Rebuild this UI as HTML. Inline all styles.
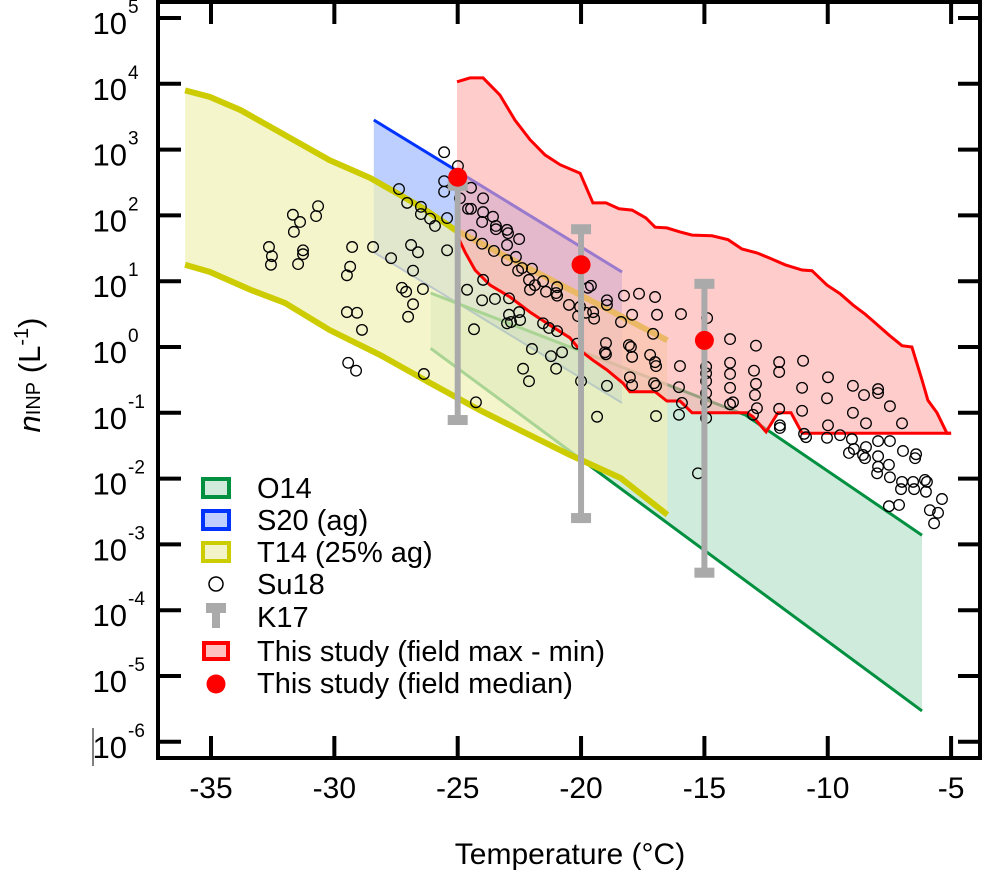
<!DOCTYPE html>
<html><head><meta charset="utf-8"><style>
body{margin:0;background:#fff}
svg{display:block;font-family:"Liberation Sans",sans-serif}
</style></head><body>
<svg id="chart" width="982" height="870" viewBox="0 0 982 870">
<g id="bands"></g><g id="pts"></g><g id="k17"></g><g id="med"></g><g id="axes"></g><g id="legend"></g>
</svg>
<script>
const xTicks=[-35,-30,-25,-20,-15,-10,-5];
const yTicks=[5,4,3,2,1,0,-1,-2,-3,-4,-5,-6];
// T14 band (log10 n)
const t14T=[-36.05,-35.04,-33.8,-30.2,-28.55,-26.5,-25.1,-16.5];
const t14Up=[3.9,3.8,3.6,2.84,2.57,2.13,1.78,0.1];
const t14LoT=[-36.05,-35.04,-33.4,-32.0,-30.2,-28.15,-26.1,-24.1,-22.5,-20.45,-18.4,-16.5];
const t14Lo=[1.25,1.14,0.87,0.67,0.26,-0.12,-0.55,-0.96,-1.26,-1.64,-1.99,-2.55];
// S20
const s20T=[-28.4,-18.34];
const s20Up=[3.45,1.14];
const s20Lo=[1.44,-0.85];
// O14
const o14UpT=[-26.1,-13.35,-6.18];
const o14Up=[0.82,-1.03,-2.86];
const o14LoT=[-26.1,-6.18];
const o14Lo=[-0.02,-5.53];
// This study max/min
const maxT=[-25.03,-24.5,-23.97,-23.29,-22.68,-22.07,-21.46,-20.85,-20.04,-19.52,-18.99,-18.46,-17.93,-17.37,-17.0,-16.52,-15.99,-15.5,-14.69,-14.04,-13.48,-12.87,-12.34,-11.73,-11.04,-10.64,-10.03,-9.5,-8.98,-8.49,-8.21,-7.48,-6.99,-6.59,-6.18,-5.94,-5.57,-5.17,-5.0];
const maxV=[4.03,4.09,4.09,3.83,3.45,3.15,2.92,2.77,2.64,2.19,2.19,2.1,2.08,1.96,1.82,1.81,1.75,1.7,1.69,1.63,1.49,1.43,1.35,1.25,1.17,1.16,0.94,0.81,0.64,0.5,0.41,0.17,0.02,0,-0.5,-0.81,-1.0,-1.31,-1.31];
const minT=[-25.03,-24.7,-24.3,-23.69,-22.88,-22.07,-21.26,-20.45,-20.04,-19.52,-18.95,-18.3,-18.02,-17.0,-16.52,-15.99,-15.5,-13.27,-13.03,-12.5,-12.02,-11.49,-11.04,-5.0];
const minV=[1.7,1.44,1.17,0.94,0.76,0.53,0.33,0.14,-0.05,-0.2,-0.35,-0.55,-0.68,-0.68,-0.82,-0.82,-1.0,-1.0,-1.06,-1.29,-1.0,-1.0,-1.31,-1.31];
const medT=[-25,-20,-15];
const medV=[2.58,1.25,0.1];
const k17T=[-25,-20,-15];
const k17Hi=[2.45,1.79,0.96];
const k17Lo=[-1.11,-2.6,-3.43];
// Su18 points
const su18T=[-25.55,-24.99,-25.55,-25.55,-24.46,-27.38,-27.05,-26.49,-26.49,-26.12,-25.92,-25.43,-24.91,-24.46,-23.97,-23.97,-24.46,-24.58,-24.01,-24.01,-25.43,-26.89,-26.61,-28.43,-27.7,-26.81,-29.28,-29.36,-29.49,-30.66,-30.74,-31.68,-31.39,-31.64,-32.65,-32.53,-32.57,-31.27,-31.27,-31.47,-24.62,-23.97,-27.26,-27.09,-26.41,-23.57,-23.45,-23.45,-23.0,-22.96,-22.51,-23.53,-23.0,-22.64,-23.0,-22.39,-22.55,-21.99,-22.11,-21.87,-22.07,-21.54,-21.42,-20.97,-21.01,-20.97,-20.49,-20.04,-20.12,-19.8,-19.51,-19.47,-19.72,-19.6,-24.01,-23.49,-22.92,-22.51,-22.92,-23.0,-22.84,-22.47,-21.54,-21.3,-20.97,-20.16,-24.34,-21.99,-21.22,-20.77,-22.35,-21.01,-22.11,-20.0,-29.44,-29.12,-26.37,-24.26,-19.35,-26.81,-27.01,-29.49,-29.08,-28.88,-18.95,-18.95,-18.26,-17.65,-17.0,-17.93,-18.38,-16.92,-15.95,-14.89,-17.08,-18.99,-19.03,-18.99,-18.06,-17.98,-17.93,-17.2,-17.0,-16.96,-18.95,-18.02,-17.93,-17.04,-16.96,-15.99,-16.03,-15.91,-16.03,-16.96,-14.93,-14.93,-14.93,-14.93,-14.93,-14.93,-13.96,-12.91,-13.96,-13.96,-13.96,-13.96,-13.84,-12.99,-12.91,-12.95,-12.87,-13.03,-11.97,-11.97,-11.97,-11.0,-11.04,-11.04,-9.99,-10.03,-9.99,-8.98,-8.53,-7.96,-7.96,-8.98,-8.45,-7.48,-6.99,-11.94,-11.94,-10.96,-10.88,-10.03,-9.5,-9.02,-7.96,-7.48,-8.94,-9.14,-8.57,-8.45,-8.49,-7.96,-7.96,-8.0,-7.52,-7.48,-6.95,-6.42,-6.46,-6.99,-6.54,-6.06,-5.98,-7.03,-6.5,-6.02,-5.37,-7.52,-7.11,-5.86,-5.53,-5.69,-15.26];
const su18V=[2.96,2.75,2.52,2.36,2.42,2.4,2.19,2.13,2.02,1.95,1.84,1.96,2.26,1.7,2.26,2.05,2.1,2.1,1.9,1.57,1.47,1.55,1.44,1.52,1.35,1.16,1.52,1.22,1.09,2.14,1.99,2.01,1.9,1.75,1.52,1.38,1.25,1.47,1.41,1.26,0.87,1.02,0.9,0.84,0.88,1.98,1.84,1.79,1.78,1.73,1.64,1.46,1.55,1.37,1.32,1.2,1.16,1.19,1.02,0.94,0.87,1.0,0.84,0.91,0.82,0.78,0.64,0.61,0.47,0.52,0.53,0.43,0.9,0.93,0.71,0.73,0.74,0.53,0.49,0.36,0.38,0.41,0.36,0.29,0.24,0.05,0.27,-0.03,-0.14,-0.08,-0.33,-0.33,-0.52,-0.52,-0.24,-0.36,-0.41,-0.84,-1.06,0.65,0.46,0.53,0.52,0.26,0.71,0.64,0.78,0.81,0.76,0.49,0.38,0.49,0.5,0.44,0.2,0.06,-0.08,-0.11,0.03,0,-0.15,-0.12,-0.23,-0.29,-0.59,-0.46,-0.58,-0.55,-0.59,-0.29,-0.61,-0.85,-1.03,-1.05,-0.3,-0.4,-0.52,-0.7,-0.84,-1.08,0.12,0.02,-0.24,-0.41,-0.62,-0.87,-0.84,-0.36,-0.56,-0.73,-0.93,-1.03,-0.23,-0.38,-0.94,-0.21,-0.62,-0.97,-0.46,-0.78,-1.19,-0.59,-0.73,-0.64,-0.7,-1.0,-1.16,-0.9,-1.16,-1.19,-1.23,-1.32,-1.37,-1.38,-1.34,-1.4,-1.43,-1.43,-1.55,-1.61,-1.64,-1.52,-1.69,-1.66,-1.82,-1.92,-1.79,-1.98,-1.58,-1.63,-1.69,-2.05,-2.05,-2.02,-2.05,-2.16,-2.16,-2.2,-2.31,-2.42,-2.4,-2.48,-2.52,-2.68,-1.92];

const NS='http://www.w3.org/2000/svg';
const X=t=>211+(t+35)*24.67;
const Y=l=>347-65.8*l;
function mk(tag,attrs,parent){const e=document.createElementNS(NS,tag);for(const k in attrs)e.setAttribute(k,attrs[k]);parent.appendChild(e);return e;}
const pl=(ts,vs)=>ts.map((t,i)=>X(t).toFixed(1)+','+Y(vs[i]).toFixed(1));
function band(tu,vu,tl,vl){return pl(tu,vu).concat(pl(tl,vl).reverse()).join(' ');}
const B=document.getElementById('bands');
let e;
// S20
e=mk('polygon',{points:band(s20T,s20Up,s20T,s20Lo),fill:'rgba(0,70,255,0.26)'},B);


e=mk('polyline',{points:pl(s20T,s20Up).join(' '),fill:'none',stroke:'#0033ff','stroke-width':3},B);


e=mk('polyline',{points:pl(s20T,s20Lo).join(' '),fill:'none',stroke:'#4466ff','stroke-width':2},B);


// O14
e=mk('polygon',{points:band(o14UpT,o14Up,o14LoT,o14Lo),fill:'rgba(0,150,70,0.19)'},B);


e=mk('polyline',{points:pl(o14UpT,o14Up).join(' '),fill:'none',stroke:'#009040','stroke-width':3},B);


e=mk('polyline',{points:pl(o14LoT,o14Lo).join(' '),fill:'none',stroke:'#009040','stroke-width':3},B);


// T14
e=mk('polygon',{points:band(t14T,t14Up,t14LoT,t14Lo),fill:'rgba(241,241,182,0.7)'},B);


e=mk('polyline',{points:pl(t14T,t14Up).join(' '),fill:'none',stroke:'#cccc00','stroke-width':6},B);


e=mk('polyline',{points:pl(t14LoT,t14Lo).join(' '),fill:'none',stroke:'#cccc00','stroke-width':6},B);


// This study
e=mk('polygon',{points:band(maxT,maxV,minT,minV),fill:'rgba(255,170,170,0.6)'},B);


e=mk('polyline',{points:pl(maxT,maxV).join(' '),fill:'none',stroke:'#ff0000','stroke-width':3},B);


e=mk('polyline',{points:pl(minT,minV).join(' '),fill:'none',stroke:'#ff0000','stroke-width':3},B);


// Su18
const P=document.getElementById('pts');
su18T.forEach((t,i)=>{const c=mk('circle',{cx:X(t),cy:Y(su18V[i]),r:5.3,fill:'none',stroke:'#000','stroke-width':1.3},P);

});
// K17
const K=document.getElementById('k17');
k17T.forEach((t,i)=>{const x=X(t);
const l=mk('line',{x1:x,x2:x,y1:Y(k17Hi[i]),y2:Y(k17Lo[i]),stroke:'#aaaaaa','stroke-width':6},K);


[k17Hi[i],k17Lo[i]].forEach(v=>{const r=mk('rect',{x:x-10,y:Y(v)-5,width:20,height:10,fill:'#aaaaaa'},K);

});});
// medians
const M=document.getElementById('med');
medT.forEach((t,i)=>{const c=mk('circle',{cx:X(t),cy:Y(medV[i]),r:9.5,fill:'#ff0000'},M);

});
// axes
const A=document.getElementById('axes');
e=mk('rect',{x:158,y:2,width:822,height:756,fill:'none',stroke:'#000','stroke-width':4},A);


xTicks.forEach(t=>{const x=X(t);
mk('line',{x1:x,x2:x,y1:758,y2:736,stroke:'#000','stroke-width':4},A);
mk('line',{x1:x,x2:x,y1:2,y2:24,stroke:'#000','stroke-width':4},A);
const tx=mk('text',{x:x,y:798,'text-anchor':'middle','font-size':30},A);tx.textContent=t;

});
yTicks.forEach(v=>{const y=Y(v);
mk('line',{x1:158,x2:181,y1:y,y2:y,stroke:'#000','stroke-width':4},A);
mk('line',{x1:980,x2:958,y1:y,y2:y,stroke:'#000','stroke-width':4},A);
const tx=mk('text',{x:127,y:y+16,'text-anchor':'end','font-size':31},A);tx.textContent='10';


const sp=mk('text',{x:128,y:y-5,'font-size':19},A);sp.textContent=String(v);

});
mk('line',{x1:93,x2:93,y1:728,y2:766,stroke:'#000','stroke-width':1},A);
</script>
<svg style="position:absolute;left:0;top:0" width="982" height="870">
<text x="570" y="864" text-anchor="middle" font-size="30" font-family="Liberation Sans">Temperature (°C)</text>
<text transform="translate(40,375) rotate(-90)" text-anchor="middle" font-size="31" font-family="Liberation Sans"><tspan font-style="italic">n</tspan><tspan font-size="20">INP</tspan><tspan> (L</tspan><tspan font-size="20" dy="-12">-1</tspan><tspan dy="12">)</tspan></text>
<g font-family="Liberation Sans" font-size="29">
<rect x="203" y="479" width="26" height="18" fill="#d0eadb" stroke="#009040" stroke-width="4"/>
<text x="257" y="498">O14</text>
<rect x="203" y="511" width="26" height="18" fill="#bfcdff" stroke="#0033ff" stroke-width="4"/>
<text x="257" y="530">S20 (ag)</text>
<rect x="203" y="543" width="26" height="18" fill="#f3f3c8" stroke="#cccc00" stroke-width="4"/>
<text x="257" y="562">T14 (25% ag)</text>
<circle cx="216" cy="584" r="7" fill="none" stroke="#000" stroke-width="1.5"/>
<text x="257" y="594">Su18</text>
<rect x="206" y="603" width="20" height="10" fill="#aaa"/>
<rect x="212" y="603" width="8" height="25" fill="#aaa"/>
<text x="257" y="627">K17</text>
<rect x="204" y="643" width="24" height="16" fill="#ffc0c0" stroke="#ff0000" stroke-width="4"/>
<text x="257" y="661">This study (field max - min)</text>
<circle cx="216" cy="684" r="9.5" fill="#ff0000"/>
<text x="257" y="693">This study (field median)</text>
</g>
</svg>
</body></html>
